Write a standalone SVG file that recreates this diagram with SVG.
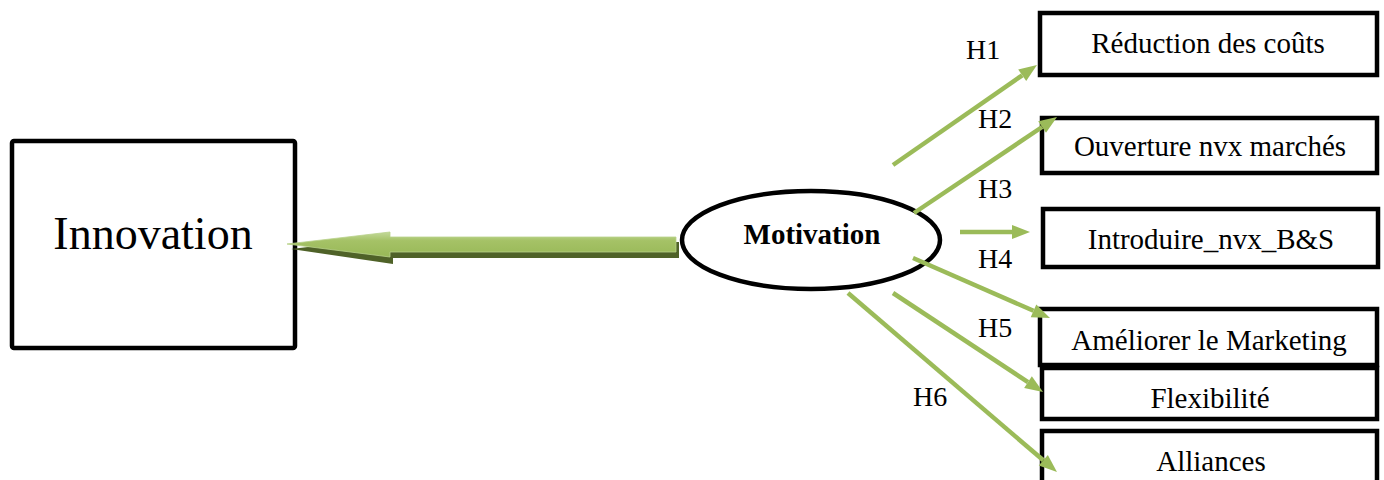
<svg xmlns="http://www.w3.org/2000/svg" width="1384" height="480" viewBox="0 0 1384 480">
  <style>
    .box { fill: #ffffff; stroke: #000000; stroke-width: 4.5; }
    .lbl { font-family: "Liberation Serif", "Times New Roman", serif; fill: #000000; text-anchor: middle; }
    .item { font-size: 29px; }
    .hyp { font-family: "Liberation Serif", "Times New Roman", serif; font-size: 28px; fill: #000000; }
    .link { stroke: #9bbb59; stroke-width: 4.5; fill: none; marker-end: url(#head); }
  </style>
  <defs>
    <marker id="head" markerUnits="userSpaceOnUse" markerWidth="18" markerHeight="14" refX="0" refY="7" orient="auto" overflow="visible">
      <path d="M0,0 L18,7 L0,14 Z" fill="#9bbb59"/>
    </marker>
    <linearGradient id="shaft" x1="0" y1="0" x2="0" y2="1">
      <stop offset="0" stop-color="#c3d99a"/>
      <stop offset="0.35" stop-color="#a5c266"/>
      <stop offset="1" stop-color="#98b857"/>
    </linearGradient>
  </defs>
  <rect width="1384" height="480" fill="#ffffff"/>

  <!-- central concept -->
  <g id="innovation">
    <rect class="box" x="12" y="141" width="283" height="207" rx="2"/>
    <text class="lbl" x="153" y="249" font-size="46">Innovation</text>
  </g>

  <g id="motivation">
    <ellipse cx="811" cy="240" rx="129" ry="49" fill="#ffffff" stroke="#000000" stroke-width="4.5"/>
    <text class="lbl" x="812" y="244" font-size="29" font-weight="bold">Motivation</text>
  </g>

  <!-- motivation factors -->
  <g id="reduction">
    <rect class="box" x="1040" y="13" width="337" height="62"/>
    <text class="lbl item" x="1208" y="53">Réduction des coûts</text>
  </g>
  <g id="ouverture">
    <rect class="box" x="1042" y="118" width="335" height="55"/>
    <text class="lbl item" x="1210" y="156">Ouverture nvx marchés</text>
  </g>
  <g id="introduire">
    <rect class="box" x="1043" y="209" width="335" height="58"/>
    <text class="lbl item" x="1211" y="249">Introduire_nvx_B&amp;S</text>
  </g>
  <g id="marketing">
    <rect class="box" x="1040" y="309" width="337" height="56"/>
    <text class="lbl item" x="1209" y="350">Améliorer le Marketing</text>
  </g>
  <g id="flexibilite">
    <rect class="box" x="1042" y="368" width="335" height="51"/>
    <text class="lbl item" x="1210" y="408">Flexibilité</text>
  </g>
  <g id="alliances">
    <rect class="box" x="1042" y="431" width="335" height="60"/>
    <text class="lbl item" x="1211" y="471">Alliances</text>
  </g>

  <!-- connectors -->
  <g id="connectors">
    <!-- block arrow from Motivation to Innovation: shadow then face -->
    <path d="M291,249 L393,237 L393,242 L679,242 L679,258 L393,258 L393,264 Z" fill="#4f6228"/>
    <path d="M287,244 L390,232 L390,237 L676,237 L676,252 L390,252 L390,257 Z" fill="url(#shaft)" stroke="#b9d28a" stroke-width="0.8"/>

    <line class="link" x1="893" y1="165" x2="1022.2" y2="75.3"/>
    <line class="link" x1="914" y1="213" x2="1042.1" y2="127"/>
    <line class="link" x1="960" y1="232" x2="1012" y2="232"/>
    <line class="link" x1="913" y1="258" x2="1033.5" y2="310.8"/>
    <line class="link" x1="893" y1="293" x2="1028" y2="382.1"/>
    <line class="link" x1="848" y1="293" x2="1043.3" y2="460.3"/>

    <text class="hyp" x="966" y="59">H1</text>
    <text class="hyp" x="978" y="128">H2</text>
    <text class="hyp" x="978" y="198">H3</text>
    <text class="hyp" x="978" y="268">H4</text>
    <text class="hyp" x="978" y="337">H5</text>
    <text class="hyp" x="913" y="406">H6</text>
  </g>
</svg>
